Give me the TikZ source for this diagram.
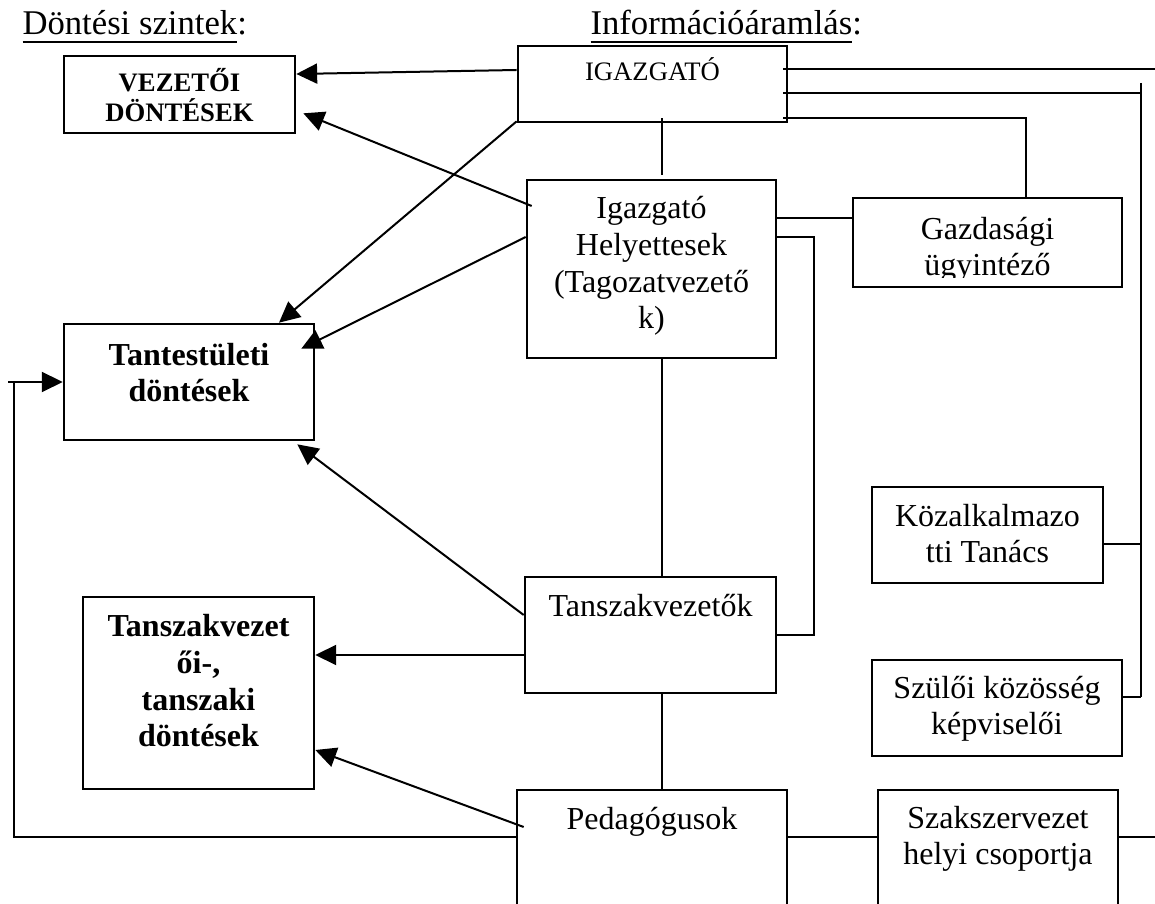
\documentclass[tikz,border=0pt]{standalone}
\usepackage{fontspec}
\setmainfont{Liberation Serif}
\usetikzlibrary{arrows.meta,calc}
\newcommand\myul[1]{\setbox0=\hbox{#1}\rlap{\rule[-3pt]{\wd0}{0.75pt}}\box0}
\begin{document}
\begin{tikzpicture}[x=0.375pt,y=-0.375pt,
  box/.style={draw,line width=1pt,inner sep=0pt,rectangle},
  conn/.style={line width=0.75pt},
  arr/.style={conn,-{Triangle[length=7.8pt,width=7.5pt]}},
  txt/.style={inner sep=0pt,anchor=base,align=center,font=\fontsize{12}{13.8}\selectfont},
  htxt/.style={txt,anchor=base west,font=\fontsize{13}{15}\selectfont},
  btxt/.style={txt,font=\fontsize{12}{13.8}\selectfont\bfseries},
  stxt/.style={txt,font=\fontsize{10}{11.5}\selectfont},
  sbtxt/.style={txt,font=\fontsize{10}{11.5}\selectfont\bfseries}]
\useasboundingbox (0,0) rectangle (1155,904);
\clip (0,0) rectangle (1155,904);
% boxes
\node[box,minimum width=86.625pt,minimum height=28.875pt] (vez) at (179.5,94.5) {};
\node[box,minimum width=100.875pt,minimum height=28.5pt] (igaz) at (652.5,84) {};
\node[box,minimum width=93.375pt,minimum height=66.75pt] (hely) at (651.5,269) {};
\node[box,minimum width=100.875pt,minimum height=33.375pt] (gazd) at (987.5,242.5) {};
\node[box,minimum width=93.75pt,minimum height=43.5pt] (tant) at (189,382) {};
\node[box,minimum width=86.625pt,minimum height=36pt] (kozalk) at (987.5,535) {};
\node[box,minimum width=94.125pt,minimum height=43.5pt] (tansz) at (650.5,635) {};
\node[box,minimum width=86.625pt,minimum height=72pt] (tdont) at (198.5,693) {};
\node[box,minimum width=93.75pt,minimum height=36pt] (szul) at (997,708) {};
\node[box,minimum width=101.25pt,minimum height=56.25pt] (ped) at (652,865) {};
\node[box,minimum width=90pt,minimum height=56.25pt] (szaksz) at (998,865) {};
% texts (multi-line nodes are anchored at the baseline of their last line)
\node[htxt] (h1) at (22,35) {\myul{Döntési szintek}:};
\node[htxt] (h2) at (590,35) {\myul{Információáramlás}:};
\node[sbtxt] (vezt) at (179.5,122) {VEZETŐI\\DÖNTÉSEK};
\node[stxt] (igazt) at (652.5,81) {IGAZGATÓ};
\node[txt] (helyt) at (651.5,329) {Igazgató\\Helyettesek\\(Tagozatvezető\\k)};
\begin{scope}
\clip (853,198) rectangle (1122,278);
\node[txt] (gazdt) at (987.5,276) {Gazdasági\\ügyintéző};
\end{scope}
\node[btxt] (tantt) at (189,402) {Tantestületi\\döntések};
\node[txt] (kozalkt) at (987.5,563) {Közalkalmazo\\tti Tanács};
\node[txt] (tanszt) at (650.5,617) {Tanszakvezetők};
\node[btxt] (tdontt) at (198.5,747) {Tanszakvezet\\ői-,\\tanszaki\\döntések};
\node[txt] (szult) at (997,735) {Szülői közösség\\képviselői};
\node[txt] (pedt) at (652,830) {Pedagógusok};
\node[txt] (szakszt) at (998,865) {Szakszervezet\\helyi csoportja};
% free-end coordinates
\coordinate (e1) at (1155,69);
\coordinate (e2) at (1155,837);
\coordinate (bt) at (1141,83);
\coordinate (bb) at (1141,697);
\coordinate (lb) at (13.5,837);
\coordinate (lt) at (13.5,382);
\coordinate (ls) at (8,382);
% arrows to decision levels
\draw[arr] (igaz.west |- 0,70) -- (vez.east |- 0,74);
\draw[arr] ($(hely.west |- 0,206)+(6,0)$) -- ($(vez.south east)+(7,-21)$);
\draw[arr] ($(igaz.south west)+(0,-2)$) -- (279,0 |- tant.north);
\draw[arr] (hely.west |- 0,237) -- ($(tant.north east)+(-14,26)$);
\draw[arr] (tansz.west |- 0,615) -- ($(tant.south east)+(-18,3)$);
\draw[arr] (tansz.west |- 0,655) -- (tdont.east |- 0,655);
\draw[arr] ($(ped.west |- 0,827)+(8,0)$) -- (tdont.east |- 0,750);
\draw[conn] (ped.west |- 0,837) -- (lb) -- (lt);
\draw[arr] (ls) -- (tant.west);
% hierarchy
\draw[conn] ($(662,0 |- igaz.south)+(0,-5)$) -- ($(662,0 |- hely.north)+(0,-4)$);
\draw[conn] (662,0 |- hely.south) -- (662,0 |- tansz.north);
\draw[conn] (662,0 |- tansz.south) -- (662,0 |- ped.north);
\draw[conn] (hely.east |- 0,218) -- (gazd.west |- 0,218);
\draw[conn] (hely.east |- 0,237) -| ($(tansz.east)+(37,0)$) -- (tansz.east);
% lines from IGAZGATO to the right
\draw[conn] ($(igaz.east |- 0,69)+(-5,0)$) -- (e1);
\draw[conn] ($(igaz.east |- 0,93)+(-5,0)$) -- (bt |- 0,93);
\draw[conn] ($(igaz.east |- 0,118)+(-5,0)$) -| ($(gazd.north)+(38.5,0)$);
\draw[conn] (bt) -- (bb);
\draw[conn] (kozalk.east |- 0,544) -- (bt |- 0,544);
\draw[conn] (szul.east |- 0,697) -- (bb);
\draw[conn] (ped.east |- 0,837) -- (szaksz.west |- 0,837);
\draw[conn] (szaksz.east |- 0,837) -- (e2);
\end{tikzpicture}
\end{document}
